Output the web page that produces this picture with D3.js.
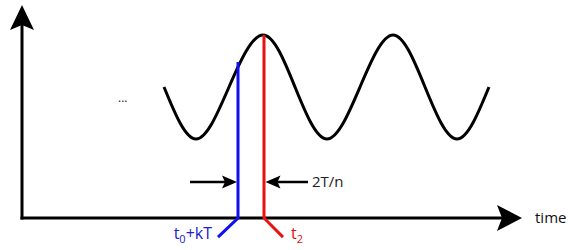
<!DOCTYPE html>
<html>
<head>
<meta charset="utf-8">
<script src="https://cdn.jsdelivr.net/npm/d3@7"></script>
<style>
  body { margin: 0; background: #fff; }
  svg text { font-family: "Open Sans", "DejaVu Sans", sans-serif; }
</style>
</head>
<body>
<div id="chart"></div>
<script>
const width = 572
const height = 250

// wave: quarter-period points (time, amplitude)
const waveTime = [28.4, 34.8, 41.4, 48.2, 54.6, 61, 67.6, 74.2, 80.6, 87, 93.4]
const waveValue = [6.15, 3.71, 6.15, 8.59, 6.15, 3.71, 6.15, 8.59, 6.15, 3.71, 6.15]

// the two sample instants
const markTime = [43.2, 48.4]
const markTop = [7.32, 8.59]
const markTailTime = [39.2, 52.2]
const markColors = ["#1010f0", "#ee1111"]

// interval annotation
const gapLevel = 1.69
const gapLeft = 33.6
const gapRight = 57.2
const gapLabel = "2T/n"

const tailLevel = -0.9

let x = d3.scaleLinear().domain([0, 100]).range([22, 522])
let y = d3.scaleLinear().domain([0, 10]).range([218, 5])

let svg = d3.select("#chart")
    .append("svg")
    .attr("width", width)
    .attr("height", height)

// arrowhead helper: tip, direction, length, half width, notch
function arrowHead(tx, ty, dx, dy, len, half, notch) {
    let bx = tx - dx * len, by = ty - dy * len
    let nx = -dy, ny = dx
    let p = d3.path()
    p.moveTo(tx, ty)
    p.lineTo(bx + nx * half, by + ny * half)
    p.lineTo(tx - dx * (len - notch), ty - dy * (len - notch))
    p.lineTo(bx - nx * half, by - ny * half)
    p.closePath()
    return p.toString()
}

// axes
svg.append("line")
    .attr("x1", x(0)).attr("x2", x(0))
    .attr("y1", y(0) + 1.5).attr("y2", y(10) + 20)
    .attr("stroke", "#000").attr("stroke-width", 3)
svg.append("path")
    .attr("d", arrowHead(x(0), y(10), 0, -1, 25, 12, 5))
    .attr("fill", "#000")

svg.append("line")
    .attr("x1", x(0) - 1.5).attr("x2", x(100) - 20)
    .attr("y1", y(0)).attr("y2", y(0))
    .attr("stroke", "#000").attr("stroke-width", 3)
svg.append("path")
    .attr("d", arrowHead(x(100), y(0), 1, 0, 25, 13, 5))
    .attr("fill", "#000")

svg.append("text")
    .attr("x", x(100) + 13)
    .attr("y", y(0) + 5)
    .style("font-size", "15px")
    .attr("fill", "#111")
    .text("time")

// the wave
let wave = d3.line()
    .x(function(d, i) { return x(waveTime[i]); })
    .y(function(d, i) { return y(waveValue[i]); })
    .curve(d3.curveNatural)

svg.append("path")
    .datum(waveTime)
    .attr("d", wave)
    .attr("fill", "none")
    .attr("stroke", "#000")
    .attr("stroke-width", 3)

// dots before the wave
svg.append("text")
    .attr("x", x(19.2))
    .attr("y", y(5.54) + 2)
    .style("font-size", "12px")
    .attr("fill", "#222")
    .text("...")

// sample lines with their bent tails
markTime.forEach(function(t, i) {
    let pts = [[x(t), y(markTop[i])], [x(t), y(0)], [x(markTailTime[i]), y(tailLevel)]]
    svg.append("path")
        .attr("d", d3.line()(pts))
        .attr("fill", "none")
        .attr("stroke", markColors[i])
        .attr("stroke-width", 3)
})

// labels with subscripts
let lab0 = svg.append("text")
    .attr("x", x(markTailTime[0]) - 6)
    .attr("y", y(tailLevel) + 2)
    .attr("text-anchor", "end")
    .style("font-size", "16px")
    .attr("fill", "#2020d0")
lab0.append("tspan").text("t")
lab0.append("tspan").attr("dy", 4).style("font-size", "11px").text("0")
lab0.append("tspan").attr("dy", -4).text("+kT")

let lab1 = svg.append("text")
    .attr("x", x(markTailTime[1]) + 8)
    .attr("y", y(tailLevel) + 2)
    .style("font-size", "16px")
    .attr("fill", "#dd1111")
lab1.append("tspan").text("t")
lab1.append("tspan").attr("dy", 4).style("font-size", "11px").text("2")

// interval arrows
let gy = y(gapLevel)
svg.append("line")
    .attr("x1", x(gapLeft)).attr("x2", x(markTime[0]) - 10)
    .attr("y1", gy).attr("y2", gy)
    .attr("stroke", "#000").attr("stroke-width", 2.5)
svg.append("path")
    .attr("d", arrowHead(x(markTime[0]) - 1, gy, 1, 0, 15, 6.5, 3))
    .attr("fill", "#000")

svg.append("line")
    .attr("x1", x(markTime[1]) + 10).attr("x2", x(gapRight))
    .attr("y1", gy).attr("y2", gy)
    .attr("stroke", "#000").attr("stroke-width", 2.5)
svg.append("path")
    .attr("d", arrowHead(x(markTime[1]) + 1.5, gy, -1, 0, 15, 6.5, 3))
    .attr("fill", "#000")

svg.append("text")
    .attr("x", x(gapRight) + 4)
    .attr("y", gy + 5)
    .style("font-size", "15px")
    .attr("fill", "#222")
    .text(gapLabel)
</script>
</body>
</html>
